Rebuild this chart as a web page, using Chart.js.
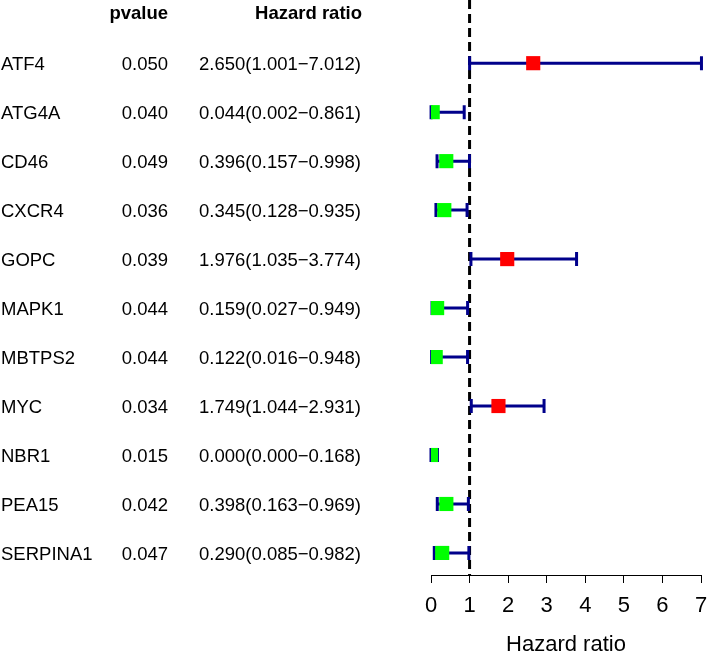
<!DOCTYPE html>
<html>
<head>
<meta charset="utf-8">
<title>Forest plot</title>
<script src="https://cdn.jsdelivr.net/npm/chart.js@4.4.1/dist/chart.umd.min.js"></script>
<style>
  html, body { margin: 0; padding: 0; background: #fff; }
  #wrap { width: 708px; height: 653px; }
</style>
</head>
<body>
<div id="wrap"><canvas id="forest" width="708" height="653"></canvas></div>
<script>
// Data
const genes = ["ATF4", "ATG4A", "CD46", "CXCR4", "GOPC", "MAPK1", "MBTPS2", "MYC", "NBR1", "PEA15", "SERPINA1"];
const pvalues = [0.050, 0.040, 0.049, 0.036, 0.039, 0.044, 0.044, 0.034, 0.015, 0.042, 0.047];
const hazardRatio = [2.650, 0.044, 0.396, 0.345, 1.976, 0.159, 0.122, 1.749, 0.000, 0.398, 0.290];
const hrLow = [1.001, 0.002, 0.157, 0.128, 1.035, 0.027, 0.016, 1.044, 0.000, 0.163, 0.085];
const hrHigh = [7.012, 0.861, 0.998, 0.935, 3.774, 0.949, 0.948, 2.931, 0.168, 0.969, 0.982];
const xTicks = [0, 1, 2, 3, 4, 5, 6, 7];

const FONT = "'Liberation Sans', Arial, Helvetica, sans-serif";
const lineColor = "#00008B";

// Dashed reference line at HR = 1 and the confidence interval bars
const intervalPlugin = {
    id: "intervals",
    beforeDatasetsDraw(chart) {
        const { ctx, chartArea, scales } = chart;
        const x = scales.x, y = scales.y;
        ctx.save();

        // vertical dashed line at 1
        ctx.strokeStyle = "#000";
        ctx.lineWidth = 3;
        ctx.setLineDash([9, 5]);
        ctx.beginPath();
        ctx.moveTo(x.getPixelForValue(1), chartArea.top);
        ctx.lineTo(x.getPixelForValue(1), chartArea.bottom);
        ctx.stroke();
        ctx.setLineDash([]);

        // CI lines with end caps
        ctx.strokeStyle = lineColor;
        ctx.lineWidth = 3;
        genes.forEach((g, i) => {
            const py = y.getPixelForValue(i);
            const x0 = x.getPixelForValue(hrLow[i]);
            const x1 = x.getPixelForValue(hrHigh[i]);
            ctx.beginPath();
            ctx.moveTo(x0, py);
            ctx.lineTo(x1, py);
            ctx.moveTo(x0, py - 7);
            ctx.lineTo(x0, py + 7);
            ctx.moveTo(x1, py - 7);
            ctx.lineTo(x1, py + 7);
            ctx.stroke();
        });
        ctx.restore();
    },
    afterDraw(chart) {
        // text table on the left
        const { ctx, scales } = chart;
        const y = scales.y;
        ctx.save();
        ctx.fillStyle = "#000";
        ctx.textBaseline = "middle";

        const headY = y.getPixelForValue(-1);
        ctx.font = "bold 18.5px " + FONT;
        ctx.textAlign = "right";
        ctx.fillText("pvalue", 168, headY);
        ctx.fillText("Hazard ratio", 362, headY);

        ctx.font = "18.5px " + FONT;
        genes.forEach((g, i) => {
            const py = y.getPixelForValue(i) + 2;
            ctx.textAlign = "left";
            ctx.fillText(g, 1, py);
            ctx.textAlign = "right";
            ctx.fillText(pvalues[i].toFixed(3), 168, py);
            ctx.textAlign = "left";
            const txt = hazardRatio[i].toFixed(3) + "(" + hrLow[i].toFixed(3) + "\u2212" + hrHigh[i].toFixed(3) + ")";
            ctx.fillText(txt, 199, py);
        });
        ctx.restore();
    }
};

const ctx = document.getElementById("forest").getContext("2d");
new Chart(ctx, {
    type: "scatter",
    data: {
        datasets: [
            {
                data: genes.map((g, i) => ({ x: hazardRatio[i], y: i })),
                pointStyle: "rect",
                pointRadius: 10,
                pointHoverRadius: 10,
                pointBorderWidth: 0,
                pointBackgroundColor: hazardRatio.map((v) => (v > 1 ? "#FF0000" : "#00FF00")),
                pointBorderColor: hazardRatio.map((v) => (v > 1 ? "#FF0000" : "#00FF00")),
            },
        ],
    },
    options: {
        responsive: false,
        animation: false,
        devicePixelRatio: 1,
        layout: {
            autoPadding: false,
            padding: { left: 431, right: 7, top: 0, bottom: -3 },
        },
        scales: {
            x: {
                type: "linear",
                min: 0,
                max: 7,
                afterBuildTicks: (axis) => {
                    axis.ticks = xTicks.map((v) => ({ value: v }));
                },
                afterFit: (axis) => {
                    // fixed axis box so the plot area matches the reference
                    axis.height = 81;
                    axis.paddingLeft = 0;
                    axis.paddingRight = 0;
                },
                grid: {
                    display: true,
                    drawOnChartArea: false,
                    drawTicks: true,
                    tickLength: 8,
                    color: "#000",
                    lineWidth: 1,
                },
                border: {
                    display: true,
                    color: "#000",
                    width: 1,
                },
                ticks: {
                    color: "#000",
                    padding: 12,
                    maxRotation: 0,
                    font: { family: FONT, size: 22, lineHeight: 1 },
                },
                title: {
                    display: true,
                    text: "Hazard ratio",
                    color: "#000",
                    padding: { top: 16, bottom: 0 },
                    font: { family: FONT, size: 22, lineHeight: 1 },
                },
            },
            y: {
                type: "linear",
                display: false,
                reverse: true,
                min: -1.29,
                max: 10.45,
            },
        },
        plugins: {
            legend: { display: false },
            tooltip: { enabled: false },
        },
    },
    plugins: [intervalPlugin],
});
</script>
</body>
</html>
